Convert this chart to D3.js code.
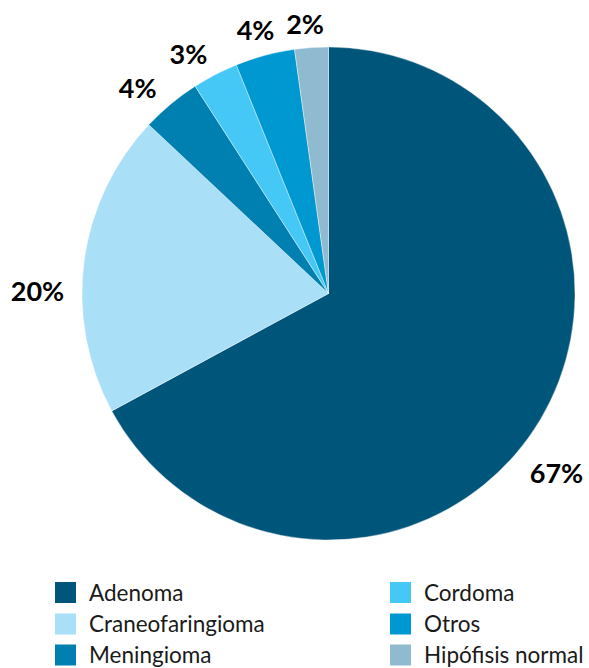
<!DOCTYPE html>
<html><head><meta charset="utf-8">
<script src="https://cdn.jsdelivr.net/npm/d3@7"></script>
<style>html,body{margin:0;padding:0;background:#fff;}svg{display:block;}</style>
</head><body>
<svg id="chart" width="589" height="668"></svg>
<script>
const categories = ["Adenoma","Craneofaringioma","Meningioma","Cordoma","Otros","Hipófisis normal"];
const values = [67.1, 19.9, 3.9, 3.0, 3.9, 2.2];
const valueLabels = ["67%","20%","4%","3%","4%","2%"];
const colors = ["#00557a","#aadff8","#0080b1","#45c8f5","#0098d0","#8fbad0"];
// label placement tweaks (degrees of rotation from slice middle, radius)
const labelShift = [7.4, -6.8, -3, -2.9, -0.5, -1];
const labelRadius = [290, 291, 281, 278, 274, 271];

const svg = d3.select("#chart");
const cx = 328.5, cy = 293.5, r = 246.5;
const g = svg.append("g").attr("transform", `translate(${cx},${cy})`);
const pie = d3.pie().sort(null).value(d => d)(values);
const arc = d3.arc().innerRadius(0).outerRadius(r);
g.selectAll("path").data(pie).join("path")
  .attr("d", arc).attr("fill", (d,i) => colors[i])
  .attr("stroke", "#fff").attr("stroke-width", 0.4);

g.selectAll("text.lbl").data(pie).join("text").attr("class","lbl")
  .attr("x", (d,i) => { const a = (d.startAngle + d.endAngle)/2 + labelShift[i]*Math.PI/180; return Math.sin(a)*labelRadius[i]; })
  .attr("y", (d,i) => { const a = (d.startAngle + d.endAngle)/2 + labelShift[i]*Math.PI/180; return -Math.cos(a)*labelRadius[i]; })
  .attr("text-anchor","middle").attr("dominant-baseline","central")
  .attr("font-family","Lato, 'Open Sans', sans-serif").attr("font-weight","bold")
  .attr("font-size", 27).attr("fill","#000")
  .text((d,i) => valueLabels[i]);

const legend = svg.append("g");
const colX = [55, 390], rowY = [582, 613.5, 644.5];
categories.forEach((c,i) => {
  const col = Math.floor(i/3), row = i%3;
  const item = legend.append("g").attr("transform", `translate(${colX[col]},${rowY[row]})`);
  item.append("rect").attr("width",21).attr("height",21).attr("fill",colors[i]);
  item.append("text").attr("x",34).attr("y",18.5)
    .attr("font-family","Lato, 'Open Sans', sans-serif").attr("font-size",22.5).attr("fill","#1a1a1a")
    .text(c);
});
</script>
</body></html>
